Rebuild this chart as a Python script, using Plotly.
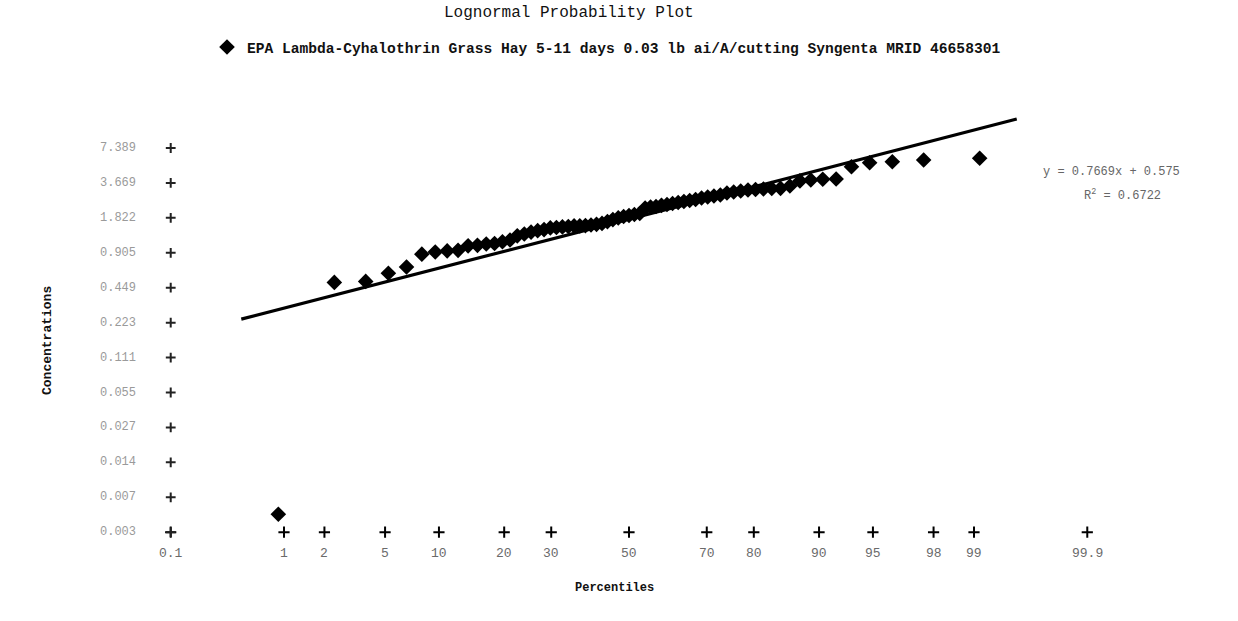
import math
from statistics import NormalDist
import plotly.graph_objects as go

# ---------------- data ----------------
series_name = "EPA Lambda-Cyhalothrin Grass Hay 5-11 days 0.03 lb ai/A/cutting Syngenta MRID 46658301"
# residue concentrations (ppm), sorted ascending
concentrations = [0.0048, 0.50, 0.51, 0.60, 0.68, 0.88, 0.92, 0.94, 0.95, 1.04,
                  1.05, 1.08, 1.09, 1.13, 1.17, 1.27, 1.32, 1.37, 1.41, 1.44,
                  1.49, 1.50, 1.52, 1.53, 1.55, 1.55, 1.56, 1.58, 1.60, 1.63,
                  1.69, 1.76, 1.82, 1.87, 1.91, 1.95, 1.99, 2.22, 2.26, 2.29,
                  2.34, 2.38, 2.43, 2.48, 2.53, 2.58, 2.63, 2.71, 2.77, 2.82,
                  2.88, 3.00, 3.06, 3.12, 3.18, 3.22, 3.25, 3.28, 3.29, 3.45,
                  3.82, 3.89, 3.95, 3.97, 5.08, 5.50, 5.61, 5.81, 6.01]

trend_slope = 0.7669
trend_intercept = 0.575
trend_r2 = 0.6722
trend_forecast = 0.25          # forward / backward forecast of the trendline (z units)

percentile_ticks = [0.1, 1, 2, 5, 10, 20, 30, 50, 70, 80, 90, 95, 98, 99, 99.9]
percentile_labels = ["0.1", "1", "2", "5", "10", "20", "30", "50", "70", "80", "90", "95", "98", "99", "99.9"]

conc_tick_ln = [2.0, 1.3, 0.6, -0.1, -0.8, -1.5, -2.2, -2.9, -3.6, -4.3, -5.0, -5.7]
conc_tick_labels = ["7.389", "3.669", "1.822", "0.905", "0.449", "0.223",
                    "0.111", "0.055", "0.027", "0.014", "0.007", "0.003"]

# ---------------- transforms ----------------
nd = NormalDist()
n = len(concentrations)
z_data = [nd.inv_cdf((i + 1 - 0.375) / (n + 0.25)) for i in range(n)]
ln_data = [math.log(c) for c in concentrations]

z_lo = min(z_data) - trend_forecast
z_hi = max(z_data) + trend_forecast
trend_x = [z_lo, z_hi]
trend_y = [trend_intercept + trend_slope * z for z in trend_x]

z_ticks = [nd.inv_cdf(p / 100.0) for p in percentile_ticks]
x_axis_row = conc_tick_ln[-1]          # dummy x-axis sits on the lowest concentration tick
y_axis_col = z_ticks[0]                # dummy y-axis sits on the 0.1 percentile

FONT = "Liberation Mono, Courier New, monospace"
LABEL_COLOR = "#6a6a6a"

fig = go.Figure()

# dummy x axis markers
fig.add_trace(go.Scatter(
    x=z_ticks, y=[x_axis_row] * len(z_ticks), mode="markers",
    marker=dict(symbol="cross-thin", size=8, line=dict(width=2, color="black")),
    showlegend=False, hoverinfo="skip"))
# dummy y axis markers
fig.add_trace(go.Scatter(
    x=[y_axis_col] * len(conc_tick_ln), y=conc_tick_ln, mode="markers",
    marker=dict(symbol="cross-thin", size=7, line=dict(width=2, color="#222")),
    showlegend=False, hoverinfo="skip"))

# trendline
fig.add_trace(go.Scatter(
    x=trend_x, y=trend_y, mode="lines",
    line=dict(color="black", width=3.2), showlegend=False, hoverinfo="skip"))

# data
fig.add_trace(go.Scatter(
    x=z_data, y=ln_data, mode="markers", name=series_name,
    marker=dict(symbol="diamond", size=12, color="black", line=dict(width=0))))

annotations = []
for z, lab in zip(z_ticks, percentile_labels):
    annotations.append(dict(x=z, y=x_axis_row, xref="x", yref="y", text=lab,
                            showarrow=False, yshift=-21, xanchor="center", yanchor="middle",
                            font=dict(family=FONT, size=13, color=LABEL_COLOR)))
for v, lab in zip(conc_tick_ln, conc_tick_labels):
    annotations.append(dict(x=y_axis_col, y=v, xref="x", yref="y", text=lab,
                            showarrow=False, xshift=-33, xanchor="right", yanchor="middle",
                            font=dict(family=FONT, size=12, color="#9a9a9a")))

annotations += [
    dict(x=569 / 1238, y=1 - 13 / 621, xref="paper", yref="paper", text="Lognormal Probability Plot",
         showarrow=False, xanchor="center", yanchor="middle",
         font=dict(family=FONT, size=16, color="#111")),
    dict(x=47 / 1238, y=1 - 341 / 621, xref="paper", yref="paper", text="<b>Concentrations</b>",
         showarrow=False, textangle=-90, xanchor="center", yanchor="middle",
         font=dict(family=FONT, size=13, color="#111")),
    dict(x=614 / 1238, y=1 - 588 / 621, xref="paper", yref="paper", text="<b>Percentiles</b>",
         showarrow=False, xanchor="center", yanchor="middle",
         font=dict(family=FONT, size=12, color="#111")),
    dict(x=1111 / 1238, y=1 - 172 / 621, xref="paper", yref="paper",
         text=f"y = {trend_slope}x + {trend_intercept}",
         showarrow=False, xanchor="center", yanchor="middle",
         font=dict(family=FONT, size=12, color="#666")),
    dict(x=1122 / 1238, y=1 - 195 / 621, xref="paper", yref="paper",
         text=f"R<sup>2</sup> = {trend_r2}",
         showarrow=False, xanchor="center", yanchor="middle",
         font=dict(family=FONT, size=12, color="#666")),
]

fig.update_layout(
    width=1238, height=621,
    margin=dict(l=0, r=0, t=0, b=0),
    paper_bgcolor="white", plot_bgcolor="white",
    xaxis=dict(range=[-629 / 148.3, (1238 - 629) / 148.3], visible=False),
    yaxis=dict(range=[0.575 - 401.9 / 49.9, 0.575 + 219.1 / 49.9], visible=False),
    showlegend=True,
    legend=dict(x=207 / 1238, y=1 - 47 / 621, xanchor="left", yanchor="middle",
                bgcolor="rgba(0,0,0,0)", itemwidth=30,
                font=dict(family=FONT, size=14.6, color="#111", weight="bold")),
    annotations=annotations,
)

fig.write_html("out.html", config={"displayModeBar": False},
               post_script="document.body.style.margin='0';")
